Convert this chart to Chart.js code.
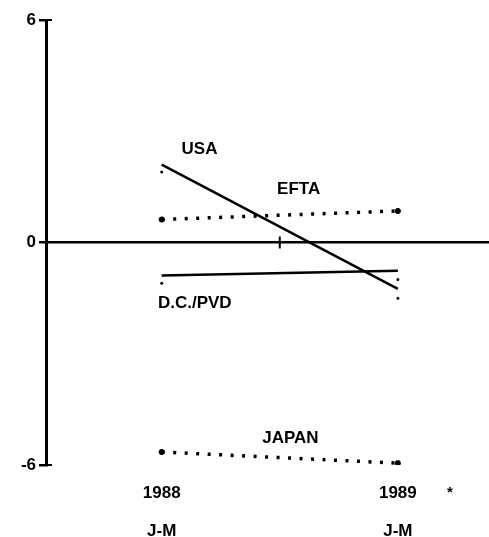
<!DOCTYPE html>
<html>
<head>
<meta charset="utf-8">
<script src="https://cdn.jsdelivr.net/npm/chart.js@4/dist/chart.umd.min.js"></script>
<style>
  body { margin: 0; background: #fff; }
  #wrap { width: 489px; height: 537px; position: relative; }
</style>
</head>
<body>
<div id="wrap"><canvas id="trade"></canvas></div>
<script>
// Periods on the x axis (0 = 1988 J-M, 1 = 1989 J-M)
const periods = [0, 1];
const yearLabels = ['1988', '1989'];
const monthLabels = ['J-M', 'J-M'];
const noteTick = 1.22; // stray asterisk beside the 1989 label

// Series values
const usa = [2.1, -1.25];
const efta = [0.62, 0.85];
const dcPvd = [-0.89, -0.76];
const japan = [-5.65, -5.95];

// small loose dots printed under the solid lines
const usaDots = [1.9, -1.5];
const dcDots = [-1.1, -1.0];

// Series labels: [text, x, y] in data units
const seriesLabels = [
  ['USA', 0.16, 2.5],
  ['EFTA', 0.58, 1.43],
  ['D.C./PVD', 0.14, -1.65],
  ['JAPAN', 0.545, -5.27]
];

const yTicks = [-6, 0, 6];
const midTick = 0.5;

const pts = vals => periods.map((p, i) => ({ x: p, y: vals[i] }));
const FONT = "'Liberation Sans', Arial, sans-serif";

const labelPlugin = {
  id: 'labels',
  afterDatasetsDraw(chart) {
    const { ctx, scales: { x, y } } = chart;
    ctx.save();
    ctx.strokeStyle = '#000';
    ctx.lineWidth = 2;
    ctx.beginPath();
    // little tick on the zero line
    ctx.moveTo(x.getPixelForValue(midTick), y.getPixelForValue(0) - 6);
    ctx.lineTo(x.getPixelForValue(midTick), y.getPixelForValue(0) + 6);
    // end caps of the y axis reach a bit to the right
    [y.min, y.max].forEach(v => {
      ctx.moveTo(x.left, y.getPixelForValue(v));
      ctx.lineTo(x.left + 6, y.getPixelForValue(v));
    });
    ctx.stroke();

    ctx.fillStyle = '#000';
    ctx.font = 'bold 17px ' + FONT;
    ctx.textAlign = 'center';
    ctx.textBaseline = 'middle';
    seriesLabels.forEach(([t, lx, ly]) => {
      ctx.fillText(t, x.getPixelForValue(lx), y.getPixelForValue(ly));
    });
    // asterisk next to the 1989 tick label
    ctx.font = 'bold 15px ' + FONT;
    ctx.fillText('*', x.getPixelForValue(noteTick), y.bottom + 28);
    ctx.restore();
  }
};

const solid = { borderColor: '#000', borderWidth: 2.5, pointRadius: 0, fill: false };
const dotted = {
  borderColor: '#000', borderWidth: 3.5, borderDash: [3, 8.5], fill: false,
  pointStyle: 'star', pointRadius: 3, pointBorderWidth: 2,
  pointBorderColor: '#000', pointBackgroundColor: '#000'
};

new Chart(document.getElementById('trade'), {
  type: 'line',
  data: {
    datasets: [
      { label: 'USA', data: pts(usa), ...solid },
      { label: 'EFTA', data: pts(efta), ...dotted },
      { label: 'D.C./PVD', data: pts(dcPvd), ...solid },
      { label: 'JAPAN', data: pts(japan), ...dotted },
      {
        label: 'dots', data: [...pts(usaDots), ...pts(dcDots)], showLine: false,
        pointRadius: 1.5, pointBackgroundColor: '#000', pointBorderWidth: 0
      }
    ]
  },
  options: {
    responsive: true,
    maintainAspectRatio: false,
    animation: false,
    layout: { autoPadding: false, padding: { top: 20, right: 0, left: 0, bottom: 0 } },
    plugins: { legend: { display: false }, tooltip: { enabled: false } },
    scales: {
      x: {
        type: 'linear',
        min: -0.49,
        max: 1.386,
        afterFit: s => { s.height = 72; },
        afterBuildTicks: s => { s.ticks = periods.map(v => ({ value: v })); },
        grid: { display: false },
        border: { display: false },
        ticks: {
          autoSkip: false,
          maxRotation: 0,
          padding: 1,
          color: '#000',
          font: { family: FONT, size: 17, weight: 'bold', lineHeight: 2.25 },
          callback: v => {
            const i = periods.indexOf(v);
            return [yearLabels[i], monthLabels[i]];
          }
        }
      },
      y: {
        min: -6,
        max: 6,
        afterFit: s => { s.width = 46; },
        afterBuildTicks: s => { s.ticks = yTicks.map(v => ({ value: v })); },
        border: { display: true, color: '#000', width: 3 },
        grid: {
          color: c => (c.tick && c.tick.value === 0 ? '#000' : 'rgba(0,0,0,0)'),
          lineWidth: 2.5,
          tickColor: '#000',
          tickLength: 7,
          drawTicks: true
        },
        ticks: {
          padding: 3,
          color: '#000',
          font: { family: FONT, size: 17, weight: 'bold' }
        }
      }
    }
  },
  plugins: [labelPlugin]
});
</script>
</body>
</html>
